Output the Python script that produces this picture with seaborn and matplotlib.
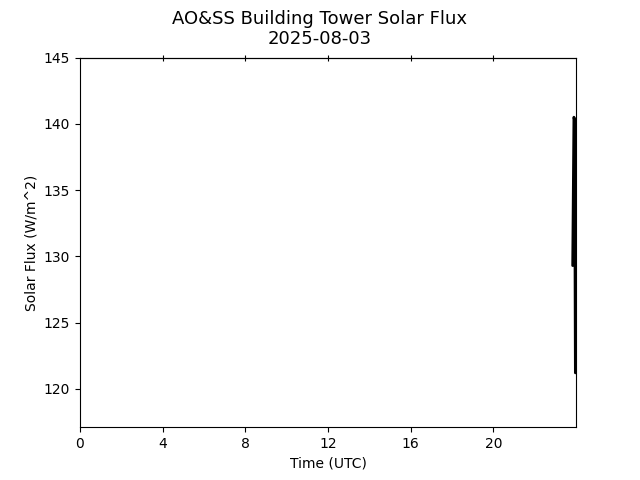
import matplotlib
matplotlib.use("Agg")
import matplotlib.pyplot as plt
import seaborn as sns
import pandas as pd

# Solar flux readings near the end of the day (hours UTC)
hours = [23.84, 23.90, 23.93, 23.97]
flux = [129.3, 140.5, 140.3, 121.2]

df = pd.DataFrame({'hour': hours, 'flux': flux})

sns.set_style('ticks', {'axes.edgecolor': 'black', 'text.color': 'black',
                        'axes.labelcolor': 'black', 'xtick.color': 'black',
                        'ytick.color': 'black'})
plt.rcParams['font.family'] = ['DejaVu Sans']

fig, ax = plt.subplots(figsize=(6.4, 4.8), dpi=100)
sns.lineplot(data=df, x='hour', y='flux', ax=ax, color='black',
             linewidth=2, estimator=None, sort=False)

ax.set_xlim(0, 24)
ax.set_ylim(117.1, 145)
ax.set_xticks([0, 4, 8, 12, 16, 20])
ax.set_xlabel('Time (UTC)')
ax.set_ylabel('Solar Flux (W/m^2)')
fig.suptitle('AO&SS Building Tower Solar Flux\n2025-08-03', fontsize=13)

# top ticks crossing the spine, no labels
top = ax.secondary_xaxis('top')
top.set_xticks([4, 8, 12, 16, 20])
top.tick_params(direction='inout', length=4, labeltop=False)

for s in ax.spines.values():
    s.set_visible(True)
    s.set_color('black')

fig.savefig('out.png', dpi=100)
